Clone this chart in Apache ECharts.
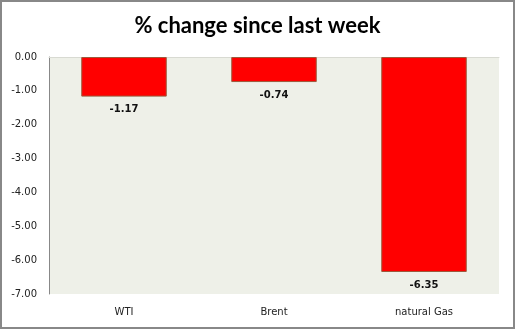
<!DOCTYPE html>
<html><head><meta charset="utf-8">
<script src="https://cdn.jsdelivr.net/npm/echarts@6/dist/echarts.min.js"></script>
<style>html,body{margin:0;padding:0;background:#fff}#c{width:515px;height:329px;box-sizing:border-box;border:2px solid #888;}</style>
</head><body><div id="c"></div>
<script>
const categories = ['WTI', 'Brent', 'natural Gas'];
const changes = [-1.17, -0.74, -6.35];
const yTicks = ['0.00', '-1.00', '-2.00', '-3.00', '-4.00', '-5.00', '-6.00', '-7.00'];

const chart = echarts.init(document.getElementById('c'), null, {renderer: 'canvas'});
chart.setOption({
  animation: false,
  title: {
    text: '% change since last week', left: 'center', top: 8,
    textStyle: {fontFamily: 'Lato', fontWeight: 'bold', fontSize: 22, color: '#000'}
  },
  grid: {left: 47, right: 14, top: 55, bottom: 33, show: true, backgroundColor: '#EEF0E8', borderWidth: 0},
  xAxis: [{
    type: 'category', data: categories, position: 'top',
    axisLine: {show: true, lineStyle: {color: '#d8dad2', width: 1}},
    axisTick: {show: false},
    axisLabel: {show: false}
  }, {
    type: 'category', data: categories, position: 'bottom',
    axisLine: {show: false}, axisTick: {show: false},
    axisLabel: {color: '#222', fontFamily: 'DejaVu Sans', fontSize: 10, margin: 13}
  }],
  yAxis: {
    type: 'value', min: -7, max: 0, interval: 1,
    axisLine: {show: true, lineStyle: {color: '#888', width: 1}},
    axisTick: {show: false},
    splitLine: {show: false},
    axisLabel: {
      color: '#222', fontFamily: 'DejaVu Sans', fontSize: 10, margin: 12,
      formatter: v => yTicks[Math.round(-v)]
    }
  },
  series: [{
    type: 'bar', data: changes, barWidth: '57%', xAxisIndex: 0,
    itemStyle: {color: '#FF0000', borderColor: '#9C5A3C', borderWidth: 1},
    label: {
      show: true, position: 'bottom', distance: 8,
      color: '#111', fontFamily: 'DejaVu Sans', fontWeight: 'bold', fontSize: 10,
      formatter: p => p.value.toFixed(2)
    }
  }]
});
</script></body></html>
